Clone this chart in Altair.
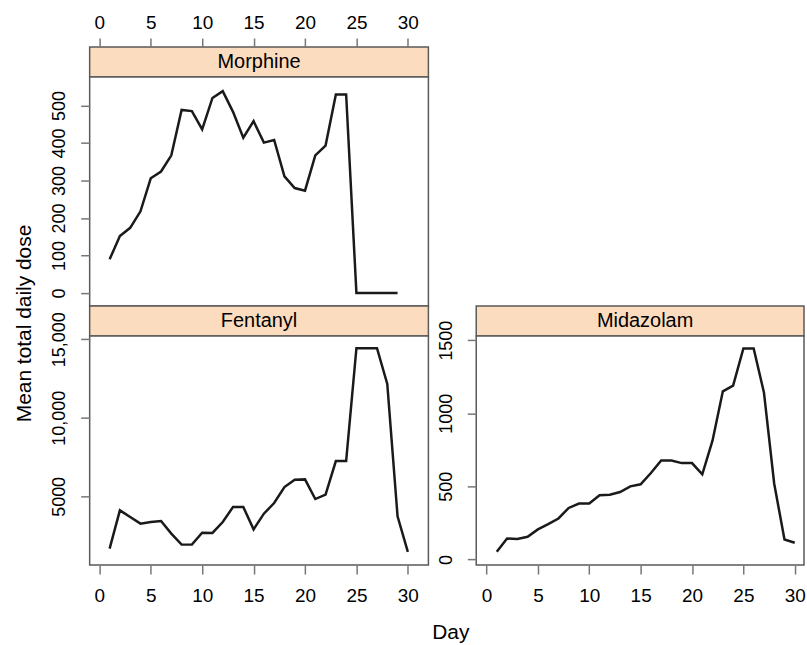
import altair as alt
import pandas as pd

FONT = "Liberation Sans"

drugs = ["Morphine", "Fentanyl", "Midazolam"]

morphine_days = list(range(1, 30))
morphine_dose = [90, 152, 174, 218, 306, 324, 367, 488, 485, 436, 520, 538, 483, 414,
                 458, 401, 408, 311, 280, 273, 367, 393, 529, 529, 0, 0, 0, 0, 0]

fentanyl_days = list(range(1, 31))
fentanyl_dose = [1673, 4110, 3686, 3262, 3368, 3432, 2627, 1928, 1928, 2690, 2670, 3368,
                 4322, 4322, 2902, 3898, 4576, 5593, 6060, 6080, 4830, 5106, 7246, 7246,
                 14430, 14430, 14430, 12160, 3729, 1461]

midazolam_days = list(range(1, 31))
midazolam_dose = [52, 143, 139, 155, 205, 241, 280, 352, 382, 382, 439, 443, 461, 500,
                  514, 591, 677, 677, 659, 659, 582, 814, 1150, 1189, 1443, 1443, 1143,
                  518, 136, 114]

x_ticks = [0, 5, 10, 15, 20, 25, 30]
morphine_ticks = [0, 100, 200, 300, 400, 500]
fentanyl_ticks = [5000, 10000, 15000]
midazolam_ticks = [0, 500, 1000, 1500]

STRIP_FILL = "#fcdcbf"
BORDER = "#5a5a5a"
TICK = "#777777"
LINE = "#1a1a1a"

W_LEFT = 340
W_RIGHT = 329
H_STRIP = 30
H_PLOT = 230


def x_axis(orient, **kw):
    return alt.Axis(orient=orient, values=x_ticks, tickSize=9, tickWidth=1.5,
                    tickColor=TICK, labelFontSize=19, labelColor="black",
                    labelFont=FONT, domain=False, grid=False, labelFlush=False,
                    **kw)


def y_axis(values, **kw):
    return alt.Axis(values=values, tickSize=9, tickWidth=1.5, tickColor=TICK,
                    labelFontSize=18, labelColor="black", labelFont=FONT,
                    labelAngle=270, labelAlign="center", labelBaseline="middle",
                    labelPadding=21, labelOverlap=False, domain=False, grid=False,
                    **kw)


def panel(days, dose, xdom, ydom, xax, yax, width):
    df = pd.DataFrame({"Day": days, "Dose": dose})
    return alt.Chart(df).mark_line(color=LINE, strokeWidth=2.5, clip=True).encode(
        x=alt.X("Day:Q", scale=alt.Scale(domain=xdom, nice=False, zero=False), axis=xax),
        y=alt.Y("Dose:Q", scale=alt.Scale(domain=ydom, nice=False, zero=False), axis=yax),
    ).properties(width=width, height=H_PLOT,
                 view=alt.ViewBackground(stroke=BORDER, strokeWidth=1.5, fill="white"))


def strip(name, width, dx=0):
    df = pd.DataFrame({"drug": [name]})
    return alt.Chart(df).mark_text(fontSize=20, font=FONT, color="black", dx=dx).encode(
        text="drug:N"
    ).properties(width=width, height=H_STRIP,
                 view=alt.ViewBackground(fill=STRIP_FILL, stroke=BORDER, strokeWidth=1.5))


def blank(width, height):
    df = pd.DataFrame({"a": [0]})
    return alt.Chart(df).mark_point(opacity=0).properties(
        width=width, height=height,
        view=alt.ViewBackground(stroke="transparent", fill="transparent"))


morph = panel(morphine_days, morphine_dose, [-0.94, 32.0], [-34.5, 576],
              x_axis("top", offset=H_STRIP, labelPadding=6, title=None),
              y_axis(morphine_ticks, title=None, format="d"), W_LEFT)

fent = panel(fentanyl_days, fentanyl_dose, [-0.94, 32.0], [625, 15209],
             x_axis("bottom", labelPadding=12.5, title="Day", titleFontSize=21,
                    titleFont=FONT, titleFontWeight="normal", titleColor="black",
                    titleX=362, titleY=68, titleAlign="center", titleBaseline="middle"),
             y_axis(fentanyl_ticks, title="Mean total daily dose", titleFontSize=21,
                    titleFont=FONT, titleFontWeight="normal", titleColor="black",
                    titleAngle=270, titleX=-65, titleY=-13, titleAlign="center",
                    titleBaseline="middle",
                    labelExpr="datum.value >= 10000 ? format(datum.value, ',') : format(datum.value, 'd')"),
             W_LEFT)

mid = panel(midazolam_days, midazolam_dose, [-1.0, 30.9], [-39, 1529],
            x_axis("bottom", labelPadding=12.5, title=None),
            y_axis(midazolam_ticks, title=None, format="d"), W_RIGHT)

chart = alt.concat(
    strip(drugs[0], W_LEFT), blank(W_RIGHT, H_STRIP),
    morph, blank(W_RIGHT, H_PLOT),
    strip(drugs[1], W_LEFT), strip(drugs[2], W_RIGHT, dx=5),
    fent, mid,
    columns=2,
    spacing={"row": 0, "column": 48},
    bounds="flush",
).properties(
    padding={"left": 13, "top": 11, "right": 0, "bottom": 0},
    background="white",
).configure(font=FONT)

chart.save("out.html", embed_options={"renderer": "svg", "actions": False})
